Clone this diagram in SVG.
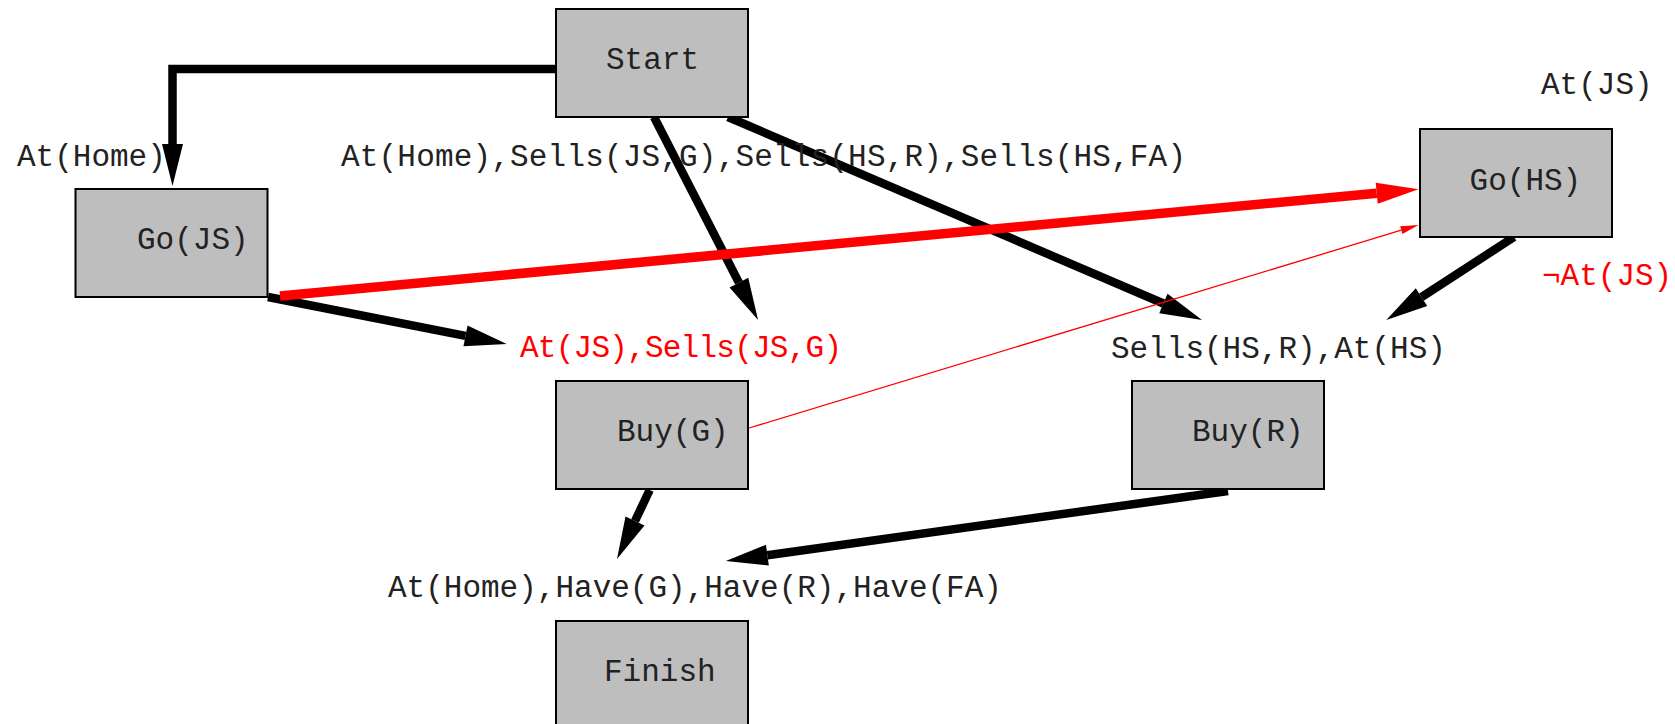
<svg xmlns="http://www.w3.org/2000/svg" width="1675" height="724" viewBox="0 0 1675 724">
<style>
.box{fill:#bebebe;stroke:#000;stroke-width:2}
text{font-family:"Liberation Mono","Courier New",monospace;font-size:31px;fill:#222}
.red{fill:#ff0000}
.e{fill:none;stroke:#000;stroke-width:8.5}
.r{fill:none;stroke:#ff0000;stroke-width:9.5}
.rt{fill:none;stroke:#ff0000;stroke-width:1.3}
</style>
<defs>
<marker id="ab" markerUnits="userSpaceOnUse" markerWidth="42" markerHeight="21" refX="0" refY="10.5" orient="auto" overflow="visible">
<path d="M0,0 L42,10.5 L0,21 z" fill="#000"/>
</marker>
<marker id="ar" markerUnits="userSpaceOnUse" markerWidth="42" markerHeight="21" refX="0" refY="10.5" orient="auto" overflow="visible">
<path d="M0,0 L42,10.5 L0,21 z" fill="#ff0000"/>
</marker>
<marker id="art" markerUnits="userSpaceOnUse" markerWidth="18" markerHeight="8" refX="0" refY="4" orient="auto" overflow="visible">
<path d="M0,0 L18,4 L0,8 z" fill="#ff0000"/>
</marker>
</defs>
<g id="connectors">
<path class="e" d="M556,69 H172.5 V144" marker-end="url(#ab)"/>
<path class="e" d="M654,117 L738.9,282.6" marker-end="url(#ab)"/>
<path class="e" d="M728,117 L1163.4,303.5" marker-end="url(#ab)"/>
<path class="e" d="M268,297 L465.5,335.9" marker-end="url(#ab)"/>
<path class="r" d="M280,296 L1376.7,193.2" marker-end="url(#ar)"/>
<path class="rt" d="M749,428 L1401.3,230.2" marker-end="url(#art)"/>
<path class="e" d="M1514,237 L1421.5,297.1" marker-end="url(#ab)"/>
<path class="e" d="M649.7,490 L635,521" marker-end="url(#ab)"/>
<path class="e" d="M1228,491 L767.4,555.2" marker-end="url(#ab)"/>
</g>
<g id="node-start"><rect class="box" x="556" y="9" width="192" height="108"/><text x="606" y="69">Start</text></g>
<g id="node-gojs"><rect class="box" x="75.5" y="189" width="192" height="108"/><text x="137" y="249">Go(JS)</text></g>
<g id="node-gohs"><rect class="box" x="1420" y="129" width="192" height="108"/><text x="1469.6" y="190">Go(HS)</text></g>
<g id="node-buyg"><rect class="box" x="556" y="381" width="192" height="108"/><text x="617" y="441">Buy(G)</text></g>
<g id="node-buyr"><rect class="box" x="1132" y="381" width="192" height="108"/><text x="1192" y="441">Buy(R)</text></g>
<g id="node-finish"><rect class="box" x="556" y="621" width="192" height="110"/><text x="604" y="681">Finish</text></g>
<g id="labels">
<text x="17" y="166">At(Home)</text>
<text x="341" y="166" textLength="845">At(Home),Sells(JS,G),Sells(HS,R),Sells(HS,FA)</text>
<text x="1541" y="94">At(JS)</text>
<text class="red" x="1542" y="285">¬At(JS)</text>
<text class="red" x="520" y="357" textLength="322">At(JS),Sells(JS,G)</text>
<text x="1111" y="358">Sells(HS,R),At(HS)</text>
<text x="388" y="597">At(Home),Have(G),Have(R),Have(FA)</text>
</g>
</svg>
